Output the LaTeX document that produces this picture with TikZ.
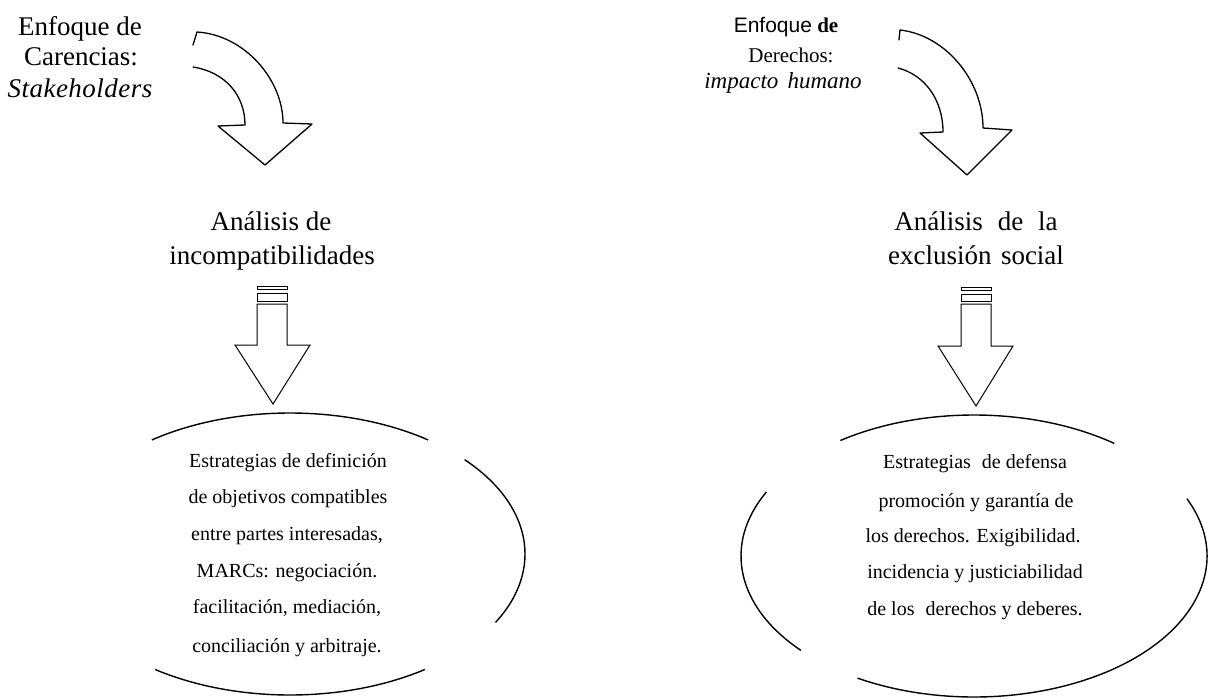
\documentclass[tikz,border=0pt]{standalone}
\usepackage{fontspec}
\setmainfont{Liberation Serif}
\newfontfamily\sansf{Liberation Sans}
\begin{document}
\begin{tikzpicture}[x=1pt,y=-1pt,
  big/.style={font=\fontsize{27}{32}\selectfont, inner sep=0pt, anchor=base},
  mid/.style={font=\fontsize{21}{25}\selectfont, inner sep=0pt, anchor=base},
  small/.style={font=\fontsize{20}{24}\selectfont, inner sep=0pt, anchor=base},
  outline/.style={draw=black, line width=1.3pt, line join=round, line cap=round},
  thin/.style={draw=black, line width=1pt, line join=miter},
  oval/.style={draw=black, line width=1.4pt}]
\useasboundingbox (0,0) rectangle (1215,699);
\fill[white] (0,0) rectangle (1215,699);

% ---------- top labels ----------
\node[big] (l1) at (80,35) {Enfoque de};
\node[big] (l2) at (81,65) {Carencias:};
\node[big] (l3) at (80,97) {\textit{S\kern0.5pt t\kern0.5pt a\kern0.5pt k\kern0.5pt e\kern0.5pt h\kern0.5pt o\kern0.5pt l\kern0.5pt d\kern0.5pt e\kern0.5pt r\kern0.5pt s}};

\node[mid] (r1) at (786,32) {{\sansf Enfoque} \textbf{de}};
\node[mid] (r2) at (791,62) {Derechos:};
\node[mid, font=\fontsize{23}{27}\selectfont] (r3) at (783,88) {\textit{impacto\hspace{0.15em} humano}};

% ---------- curved arrows ----------
\draw[outline] (193,45) -- (197,32) .. controls (245,35) and (283,80) .. (283,123)
  -- (312,124) -- (265,165) -- (218,126) -- (245,125)
  .. controls (245,95) and (225,72) .. (193,67);
\draw[outline] (899,40) -- (900,30) .. controls (945,35) and (983,80) .. (983,128)
  -- (1012,130) -- (967,175) -- (920,133) -- (943,132)
  .. controls (943,100) and (925,75) .. (898,68);

% ---------- analysis labels ----------
\node[big] (a1) at (271,230) {Análisis de};
\node[big] (a2) at (272,264) {incompatibilidades};
\node[big] (b1) at (976,230) {Análisis\hspace{0.3em} de\hspace{0.3em} la};
\node[big] (b2) at (976,264) {exclusión\hspace{0.1em} social};

% ---------- straight arrows ----------
\draw[thin] (257,286) rectangle (287,289);
\draw[thin] (257,293) rectangle (287,301);
\draw[thin] (257,304) -- (257,345) -- (235,345) -- (273,404) -- (310,345) -- (287,345) -- (287,304) -- cycle;
\draw[thin] (961,287) rectangle (991,290);
\draw[thin] (961,294) rectangle (991,301);
\draw[thin] (961,304) -- (961,346) -- (938,346) -- (976,406) -- (1013,346) -- (991,346) -- (991,304) -- cycle;

% ---------- ellipses (broken outlines) ----------
\coordinate (e1) at (290,554);
\draw[oval] (e1) ++(-54:235 and 141) arc[start angle=-54, end angle=-126, x radius=235, y radius=141];
\draw[oval] (e1) ++(29:235 and 141) arc[start angle=29, end angle=-42, x radius=235, y radius=141];
\draw[oval] (e1) ++(125:235 and 141) arc[start angle=125, end angle=55, x radius=235, y radius=141];

\coordinate (e2) at (974,556);
\draw[oval] (e2) ++(-53:233 and 141) arc[start angle=-53, end angle=-125, x radius=233, y radius=141];
\draw[oval] (e2) ++(-153:233 and 141) arc[start angle=-153, end angle=-222, x radius=233, y radius=141];
\draw[oval] (e2) ++(-24:233 and 141) arc[start angle=-24, end angle=120, x radius=233, y radius=141];

% ---------- ellipse texts ----------
\node[small] (t1) at (288,467) {Estrategias de definición};
\node[small] (t2) at (288,503) {de objetivos compatibles};
\node[small] (t3) at (287,540) {entre partes interesadas,};
\node[small] (t4) at (287,577) {MARCs: negociación.};
\node[small] (t5) at (287,613) {facilitación, mediación,};
\node[small] (t6) at (287,652) {conciliación y arbitraje.};

\node[small] (u1) at (975,468) {Estrategias\hspace{0.3em} de defensa};
\node[small] (u2) at (976,507) {promoción y garantía de};
\node[small] (u3) at (973,542) {los derechos. Exigibilidad.};
\node[small] (u4) at (975,578) {incidencia y justiciabilidad};
\node[small] (u5) at (975,615) {de los\hspace{0.3em} derechos y deberes.};
\end{tikzpicture}
\end{document}
